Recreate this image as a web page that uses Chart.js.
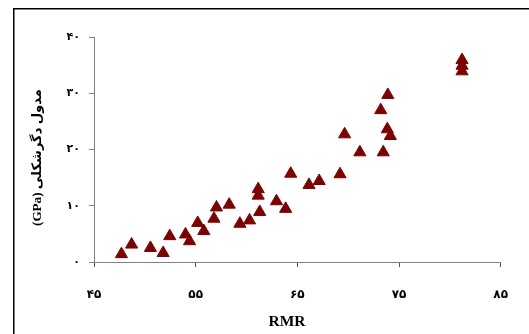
<!DOCTYPE html>
<html>
<head>
<meta charset="utf-8">
<script src="https://cdn.jsdelivr.net/npm/chart.js@4.4.1/dist/chart.umd.min.js"></script>
<style>
  html, body { margin: 0; padding: 0; background: #fff; overflow: hidden; }
  #wrap { position: relative; width: 529px; height: 334px; }
  #frame { position: absolute; left: 13px; top: 8px; width: 530px; height: 340px; border-left: 1px solid #000; border-top: 1px solid #000; z-index: 5; pointer-events: none; }
  canvas { display: block; position: absolute; left: 0; top: 0; }
</style>
</head>
<body>
<div id="wrap">
<canvas id="c" width="529" height="334"></canvas>
<div id="frame"></div>
</div>
<script>
// Data
const rmr = [47.7, 48.7, 50.55, 51.8, 52.45, 54.0, 54.4, 55.2, 55.8, 56.8, 57.05, 58.3, 59.35, 60.3, 61.15, 61.15, 61.3, 62.95, 63.85, 64.35, 66.15, 67.15, 69.2, 69.65, 71.15, 73.2, 73.45, 73.9, 73.85, 74.15, 81.2, 81.2, 81.2];
const modulus = [1.4, 3.1, 2.5, 1.6, 4.6, 4.9, 3.7, 6.95, 5.5, 7.7, 9.7, 10.2, 6.8, 7.4, 12.95, 11.8, 8.9, 10.8, 9.45, 15.7, 13.7, 14.4, 15.6, 22.7, 19.5, 27.0, 19.5, 29.7, 23.6, 22.4, 35.9, 34.9, 33.9];
const xTicks = [45, 55, 65, 75, 85];
const xTickLabels = ['۴۵', '۵۵', '۶۵', '۷۵', '۸۵'];
const yTicks = [0, 10, 20, 30, 40];
const yTickLabels = ['۰', '۱۰', '۲۰', '۳۰', '۴۰'];
const xTitle = 'RMR';
const yTitle = '(GPa) مدول دگرشکلی';

const points = rmr.map((x, i) => ({ x: x, y: modulus[i] }));

function fitFont(ctx, text, family, baseSize, targetWidth) {
  ctx.font = 'bold ' + baseSize + 'px ' + family;
  const w = ctx.measureText(text).width;
  const size = baseSize * targetWidth / w;
  ctx.font = 'bold ' + size.toFixed(2) + 'px ' + family;
}

const decor = {
  id: 'decor',
  afterDraw(chart) {
    const ctx = chart.ctx;
    ctx.save();
    ctx.fillStyle = '#000';
    ctx.fillRect(13, 8, 1.5, chart.height - 8);
    ctx.fillRect(13, 8, chart.width - 13, 1.5);

    ctx.textAlign = 'center';
    ctx.textBaseline = 'middle';
    fitFont(ctx, xTitle, "'Liberation Serif'", 15, 37);
    ctx.fillText(xTitle, 287, 322);
    ctx.translate(38, 157.5);
    ctx.rotate(-Math.PI / 2);
    fitFont(ctx, yTitle, "'Liberation Serif', 'DejaVu Sans'", 11, 137);
    ctx.fillText(yTitle, 0, 0);
    ctx.restore();
  }
};

new Chart(document.getElementById('c'), {
  type: 'scatter',
  data: {
    datasets: [{
      data: points,
      pointStyle: 'triangle',
      pointRadius: 7,
      pointBackgroundColor: '#800000',
      pointBorderColor: '#800000',
      pointBorderWidth: 1
    }]
  },
  plugins: [decor],
  options: {
    responsive: false,
    animation: false,
    layout: { padding: { left: 0, top: 37, right: 28, bottom: 0 } },
    plugins: { legend: { display: false }, tooltip: { enabled: false } },
    scales: {
      x: {
        type: 'linear',
        min: xTicks[0], max: xTicks[xTicks.length - 1],
        afterBuildTicks: (s) => { s.ticks = xTicks.map(v => ({ value: v })); },
        afterFit: (s) => { s.height = 72; },
        ticks: {
          color: '#000',
          font: { family: 'DejaVu Sans', size: 12, weight: 'bold' },
          padding: 21,
          maxRotation: 0,
          callback: (v) => xTickLabels[xTicks.indexOf(v)]
        },
        grid: { drawOnChartArea: false, drawTicks: true, tickLength: 5, color: '#555' },
        border: { display: true, color: '#808080', width: 1 }
      },
      y: {
        type: 'linear',
        min: yTicks[0], max: yTicks[yTicks.length - 1],
        afterBuildTicks: (s) => { s.ticks = yTicks.map(v => ({ value: v })); },
        afterFit: (s) => { s.width = 94; },
        ticks: {
          color: '#000',
          font: { family: 'DejaVu Sans', size: 11, weight: 'bold' },
          padding: 9,
          callback: (v) => yTickLabels[yTicks.indexOf(v)]
        },
        grid: { drawOnChartArea: false, drawTicks: true, tickLength: 5, color: '#808080' },
        border: { display: true, color: '#808080', width: 1 }
      }
    }
  }
});
</script>
</body>
</html>
